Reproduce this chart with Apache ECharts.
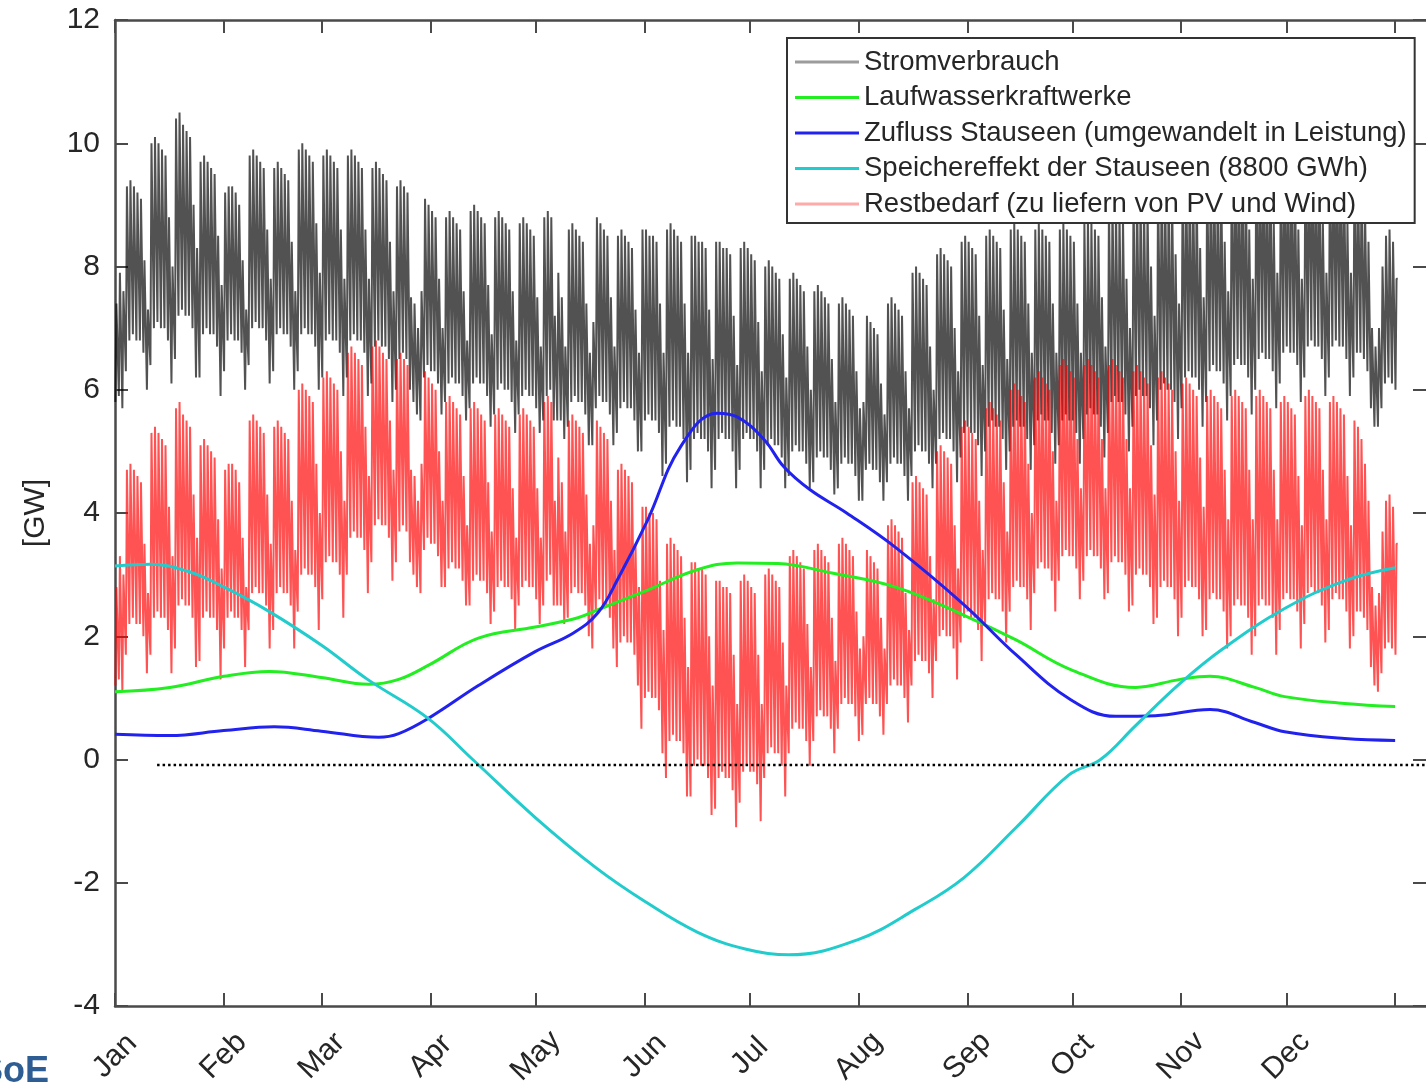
<!DOCTYPE html>
<html lang="de">
  <head>
    <meta charset="UTF-8" />
    <title>Stromverbrauch und Wasserkraft</title>
    <script src="https://cdn.jsdelivr.net/npm/echarts@6/dist/echarts.min.js"></script>
    <style>
      html, body { margin: 0; padding: 0; background: #fff; }
      #main { width: 1426px; height: 1089px; }
    </style>
  </head>
  <body>
    <div id="main"></div>
    <script type="text/javascript">
      // month labels and the day on which each month starts
      var months = ["Jan", "Feb", "Mar", "Apr", "May", "Jun", "Jul", "Aug", "Sep", "Oct", "Nov", "Dec"];
      var monthStart = [0, 31, 59, 90, 120, 151, 181, 212, 243, 273, 304, 334];
      var tickDays = [0, 31, 59, 90, 120, 151, 181, 212, 243, 273, 304, 334, 365];

      // daily peak / night low, in tenths of GW; one line per week (Mon..Sun)
      var demandHi = [
        74, 79, 76,
        93, 94, 93, 92, 91, 81, 73,
        100, 101, 100, 99, 98, 88, 80,
        104, 105, 103, 102, 101, 90, 83,
        97, 98, 97, 96, 95, 85, 77,
        92, 93, 93, 92, 90, 81, 73,
        98, 99, 98, 97, 96, 86, 78,
        96, 97, 96, 95, 94, 84, 76,
        99, 100, 99, 98, 97, 87, 79,
        98, 99, 98, 97, 96, 86, 78,
        98, 99, 98, 97, 96, 86, 78,
        96, 97, 96, 95, 94, 84, 76,
        93, 94, 93, 92, 75, 74, 70,
        76, 91, 90, 89, 88, 78, 70,
        88, 89, 88, 87, 86, 76, 68,
        89, 90, 89, 88, 87, 77, 69,
        88, 89, 88, 87, 86, 76, 68,
        87, 88, 87, 86, 85, 75, 67,
        88, 89, 88, 72, 79, 75, 67,
        86, 87, 86, 85, 84, 74, 66,
        71, 88, 87, 86, 85, 75, 67,
        85, 86, 85, 84, 83, 73, 66,
        86, 86, 85, 85, 84, 74, 66,
        86, 87, 86, 85, 84, 74, 66,
        85, 85, 84, 84, 83, 73, 65,
        84, 84, 83, 83, 82, 72, 64,
        83, 84, 83, 82, 81, 71, 63,
        80, 81, 80, 79, 78, 69, 62,
        78, 79, 78, 77, 76, 67, 60,
        76, 77, 76, 75, 74, 65, 58,
        74, 75, 74, 73, 72, 63, 57,
        58, 72, 71, 70, 69, 61, 56,
        74, 75, 74, 73, 72, 63, 57,
        79, 80, 79, 78, 77, 67, 60,
        82, 83, 82, 81, 80, 70, 63,
        84, 85, 84, 83, 82, 72, 64,
        85, 86, 85, 84, 83, 73, 65,
        86, 87, 86, 85, 84, 74, 66,
        86, 87, 86, 85, 84, 74, 66,
        86, 87, 86, 85, 84, 74, 66,
        87, 88, 87, 86, 85, 75, 67,
        90, 91, 90, 89, 88, 78, 70,
        92, 93, 92, 91, 90, 80, 72,
        94, 95, 94, 93, 92, 82, 74,
        95, 96, 95, 94, 93, 83, 75,
        96, 97, 96, 95, 94, 84, 76,
        98, 99, 98, 97, 96, 86, 78,
        99, 100, 99, 98, 97, 87, 79,
        98, 99, 98, 97, 96, 86, 78,
        99, 100, 99, 98, 97, 87, 79,
        99, 100, 99, 98, 97, 87, 79,
        97, 96, 94, 90, 84, 70, 67,
        70, 80, 85, 86, 84, 78
      ];
      var demandLo = [
        58, 59, 57,
        63, 68, 69, 68, 68, 66, 60,
        64, 70, 71, 70, 70, 68, 61,
        65, 72, 73, 72, 72, 70, 62,
        62, 69, 70, 69, 69, 67, 59,
        63, 68, 69, 68, 68, 66, 60,
        64, 70, 71, 70, 70, 68, 61,
        63, 69, 70, 69, 69, 67, 60,
        63, 69, 70, 69, 69, 67, 60,
        62, 68, 69, 68, 68, 66, 59,
        62, 68, 69, 68, 68, 66, 59,
        61, 67, 68, 67, 67, 65, 58,
        60, 65, 66, 65, 60, 58, 56,
        55, 62, 64, 63, 63, 61, 56,
        58, 61, 62, 61, 61, 59, 55,
        57, 61, 62, 61, 61, 59, 54,
        56, 60, 61, 60, 60, 58, 53,
        56, 59, 60, 59, 59, 57, 53,
        55, 59, 60, 55, 55, 55, 52,
        54, 58, 59, 58, 58, 56, 51,
        51, 57, 59, 58, 58, 56, 51,
        53, 57, 58, 57, 57, 55, 50,
        50, 55, 56, 55, 55, 53, 46,
        48, 54, 55, 54, 54, 52, 45,
        47, 52, 53, 52, 52, 50, 44,
        47, 52, 53, 52, 52, 50, 44,
        47, 52, 53, 52, 52, 50, 44,
        47, 51, 52, 51, 51, 49, 44,
        46, 50, 51, 50, 50, 48, 44,
        45, 49, 50, 49, 49, 47, 43,
        44, 48, 49, 48, 48, 46, 42,
        42, 47, 48, 47, 47, 45, 42,
        45, 48, 49, 48, 48, 46, 42,
        46, 50, 51, 50, 50, 48, 44,
        48, 52, 53, 52, 52, 50, 45,
        49, 53, 54, 53, 53, 51, 46,
        50, 54, 55, 54, 54, 52, 47,
        50, 54, 55, 54, 54, 52, 47,
        51, 55, 56, 55, 55, 53, 48,
        51, 55, 56, 55, 55, 53, 48,
        52, 56, 57, 56, 56, 54, 49,
        53, 58, 59, 58, 58, 56, 50,
        54, 59, 60, 59, 59, 57, 51,
        55, 60, 61, 60, 60, 58, 52,
        57, 62, 63, 62, 62, 60, 54,
        58, 63, 64, 63, 63, 61, 55,
        59, 64, 65, 64, 64, 62, 56,
        60, 65, 66, 65, 65, 63, 57,
        61, 66, 67, 66, 66, 64, 58,
        62, 67, 68, 67, 67, 65, 59,
        62, 67, 68, 67, 67, 65, 59,
        62, 66, 66, 65, 63, 57, 54,
        54, 57, 61, 62, 61, 60
      ];
      var residualHi = [
        28, 33, 30,
        47, 48, 47, 46, 45, 35, 27,
        53, 54, 53, 52, 51, 41, 33,
        57, 58, 56, 55, 54, 43, 36,
        51, 52, 51, 50, 49, 39, 31,
        47, 48, 48, 47, 45, 36, 28,
        55, 56, 55, 54, 53, 43, 35,
        54, 55, 54, 53, 52, 42, 34,
        60, 61, 60, 59, 58, 48, 40,
        62, 63, 62, 61, 60, 50, 42,
        66, 67, 66, 65, 64, 54, 46,
        67, 68, 67, 66, 65, 55, 47,
        65, 66, 65, 64, 47, 46, 42,
        48, 63, 62, 61, 60, 50, 42,
        58, 59, 58, 57, 56, 46, 38,
        57, 58, 57, 56, 55, 45, 37,
        56, 57, 56, 55, 54, 44, 36,
        56, 57, 56, 55, 54, 44, 36,
        58, 59, 58, 42, 49, 45, 37,
        55, 56, 55, 54, 53, 43, 35,
        38, 55, 54, 53, 52, 42, 34,
        47, 48, 47, 46, 45, 35, 28,
        41, 41, 40, 40, 39, 29, 21,
        35, 36, 35, 34, 33, 23, 15,
        32, 32, 31, 31, 30, 20, 12,
        29, 29, 28, 28, 27, 17, 9,
        29, 30, 29, 28, 27, 17, 9,
        30, 31, 30, 29, 28, 19, 12,
        33, 34, 33, 32, 31, 22, 15,
        34, 35, 34, 33, 32, 23, 16,
        35, 36, 35, 34, 33, 24, 18,
        20, 34, 33, 32, 31, 23, 18,
        38, 39, 38, 37, 36, 27, 21,
        45, 46, 45, 44, 43, 33, 26,
        50, 51, 50, 49, 48, 38, 31,
        54, 55, 54, 53, 52, 42, 34,
        57, 58, 57, 56, 55, 45, 37,
        60, 61, 60, 59, 58, 48, 40,
        62, 63, 62, 61, 60, 50, 42,
        64, 65, 64, 63, 62, 52, 44,
        64, 65, 64, 63, 62, 52, 44,
        64, 65, 64, 63, 62, 52, 44,
        63, 64, 63, 62, 61, 51, 43,
        62, 63, 62, 61, 60, 50, 42,
        61, 62, 61, 60, 59, 49, 41,
        59, 60, 59, 58, 57, 47, 39,
        59, 60, 59, 58, 57, 47, 39,
        59, 60, 59, 58, 57, 47, 39,
        58, 59, 58, 57, 56, 46, 38,
        59, 60, 59, 58, 57, 47, 39,
        58, 59, 58, 57, 56, 46, 38,
        55, 54, 52, 48, 42, 28, 25,
        27, 37, 42, 43, 41, 35
      ];
      var residualLo = [
        12, 13, 11,
        17, 22, 23, 22, 22, 20, 14,
        17, 23, 24, 23, 23, 21, 14,
        18, 25, 26, 25, 25, 23, 15,
        16, 23, 24, 23, 23, 21, 13,
        18, 23, 24, 23, 23, 21, 15,
        21, 27, 28, 27, 27, 25, 18,
        21, 27, 28, 27, 27, 25, 18,
        24, 30, 31, 30, 30, 28, 21,
        26, 32, 33, 32, 32, 30, 23,
        30, 36, 37, 36, 36, 34, 27,
        32, 38, 39, 38, 38, 36, 29,
        32, 37, 38, 37, 32, 30, 28,
        27, 34, 36, 35, 35, 33, 28,
        28, 31, 32, 31, 31, 29, 25,
        25, 29, 30, 29, 29, 27, 22,
        24, 28, 29, 28, 28, 26, 21,
        25, 28, 29, 28, 28, 26, 22,
        25, 29, 30, 25, 25, 25, 22,
        23, 27, 28, 27, 27, 25, 20,
        18, 24, 26, 25, 25, 23, 18,
        15, 19, 20, 19, 19, 17, 12,
        5, 10, 11, 10, 10, 8, 1,
        -3, 3, 4, 3, 3, 1, -6,
        -6, -1, 0, -1, -1, -3, -9,
        -8, -3, -2, -3, -3, -5, -11,
        -7, -2, -1, -2, -2, -4, -10,
        -3, 1, 2, 1, 1, -1, -6,
        1, 5, 6, 5, 5, 3, -1,
        3, 7, 8, 7, 7, 5, 1,
        5, 9, 10, 9, 9, 7, 3,
        4, 9, 10, 9, 9, 7, 4,
        9, 12, 13, 12, 12, 10, 6,
        12, 16, 17, 16, 16, 14, 10,
        16, 20, 21, 20, 20, 18, 13,
        19, 23, 24, 23, 23, 21, 16,
        22, 26, 27, 26, 26, 24, 19,
        24, 28, 29, 28, 28, 26, 21,
        27, 31, 32, 31, 31, 29, 24,
        29, 33, 34, 33, 33, 31, 26,
        29, 33, 34, 33, 33, 31, 26,
        27, 32, 33, 32, 32, 30, 24,
        25, 30, 31, 30, 30, 28, 22,
        23, 28, 29, 28, 28, 26, 20,
        23, 28, 29, 28, 28, 26, 20,
        21, 26, 27, 26, 26, 24, 18,
        20, 25, 26, 25, 25, 23, 17,
        20, 25, 26, 25, 25, 23, 17,
        21, 26, 27, 26, 26, 24, 18,
        22, 27, 28, 27, 27, 25, 19,
        21, 26, 27, 26, 26, 24, 18,
        20, 24, 24, 23, 21, 15, 12,
        11, 14, 18, 19, 18, 17
      ];

      // smooth hydro curves: [day, GW]
      var runOfRiver = [
        [0, 1.1], [15.6, 1.17], [31, 1.35], [44, 1.43], [58.8, 1.33], [72.4, 1.22], [80.9, 1.3],
        [89.7, 1.54], [103.6, 1.97], [119.8, 2.15], [132, 2.3], [137.7, 2.43], [151.9, 2.75],
        [166, 3.08], [177.4, 3.19], [189, 3.18], [204, 3.03], [223, 2.79], [242.1, 2.34],
        [256.9, 1.94], [272.5, 1.46], [291, 1.17], [303.7, 1.3], [312.2, 1.35], [325, 1.17],
        [333.5, 1.02], [350.6, 0.91], [365, 0.86]
      ];
      var reservoirInflow = [
        [0, 0.41], [15.6, 0.39], [31, 0.47], [45.4, 0.53], [58.8, 0.46], [75.2, 0.36], [80.9, 0.42],
        [89.7, 0.68], [103.6, 1.2], [119.8, 1.75], [130.6, 2.05], [137.7, 2.38], [143.3, 2.92],
        [151.9, 3.89], [161.2, 5.07], [171.7, 5.62], [177.4, 5.56], [185.1, 5.19], [190.7, 4.75],
        [198.1, 4.38], [208.6, 4.0], [222.8, 3.43], [242.1, 2.51], [256.9, 1.7], [272.5, 0.97],
        [285.3, 0.7], [296.6, 0.71], [312.2, 0.81], [325, 0.6], [333.5, 0.45], [350.6, 0.34],
        [365, 0.31]
      ];
      var storageEffect = [
        [0, 3.14], [10, 3.17], [21, 3.05], [31, 2.8], [44, 2.4], [59, 1.85], [72, 1.3], [89, 0.68],
        [102, 0.0], [120, -0.95], [137, -1.75], [151, -2.3], [166, -2.8], [180, -3.08],
        [192, -3.17], [211.5, -2.93], [228.5, -2.42], [242, -1.92], [257, -1.1], [272, -0.25],
        [281, 0.0], [291, 0.55], [304, 1.25], [316, 1.8], [333.5, 2.45], [350.6, 2.9], [365, 3.11]
      ];
      var zeroLine = [[12, -0.09], [374, -0.09]];

      // each day: night low, then the daytime plateau
      function dailyLine(lo, hi) {
        var pts = [];
        for (var d = 0; d < hi.length; d++) {
          pts.push([d + 0.1, lo[d] / 10]);
          pts.push([d + 0.4, hi[d] / 10]);
          pts.push([d + 0.75, hi[d] / 10]);
        }
        return pts;
      }

      var FONT = "Liberation Sans";
      var INK = "#262626";
      var AXIS = "#4a4a4a";

      var chart = echarts.init(document.getElementById("main"));
      var option = {
        animation: false,
        backgroundColor: "#fff",
        textStyle: { fontFamily: FONT },
        grid: { left: 115, top: 20, right: -6, bottom: 83 },
        legend: {
          orient: "vertical",
          left: 787,
          top: 38,
          padding: [9, 8, 4, 8],
          icon: "rect",
          itemWidth: 64,
          itemHeight: 3,
          itemGap: 5.5,
          backgroundColor: "#fff",
          borderColor: "#333",
          borderWidth: 2,
          borderRadius: 0,
          textStyle: { fontSize: 27.5, lineHeight: 30, color: INK, fontFamily: FONT },
          data: [
            { name: "Stromverbrauch", itemStyle: { color: "#9c9c9c" } },
            { name: "Laufwasserkraftwerke", itemStyle: { color: "#22ee22" } },
            { name: "Zufluss Stauseen (umgewandelt in Leistung)", itemStyle: { color: "#2222ee" } },
            { name: "Speichereffekt der Stauseen (8800 GWh)", itemStyle: { color: "#22cccc" } },
            { name: "Restbedarf (zu liefern von PV und Wind)", itemStyle: { color: "#ffaaaa" } }
          ]
        },
        xAxis: [
          {
            type: "value",
            min: 0,
            max: 373.8,
            axisLine: { onZero: false, lineStyle: { color: AXIS, width: 2.5 } },
            axisTick: { inside: true, length: 13, customValues: tickDays, lineStyle: { color: AXIS, width: 2 } },
            axisLabel: {
              customValues: monthStart,
              formatter: function (v) {
                return months[monthStart.indexOf(v)] || "";
              },
              rotate: 45,
              align: "center",
              verticalAlign: "middle",
              margin: 50,
              fontSize: 30,
              color: INK,
              fontFamily: FONT
            },
            splitLine: { show: false }
          },
          {
            type: "value",
            position: "top",
            min: 0,
            max: 373.8,
            axisLine: { onZero: false, lineStyle: { color: AXIS, width: 2.5 } },
            axisTick: { inside: true, length: 13, customValues: tickDays, lineStyle: { color: AXIS, width: 2 } },
            axisLabel: { show: false },
            splitLine: { show: false }
          }
        ],
        yAxis: [
          {
            type: "value",
            min: -4,
            max: 12,
            interval: 2,
            name: "[GW]",
            nameLocation: "middle",
            nameGap: 64,
            nameTextStyle: { fontSize: 30, color: INK, fontFamily: FONT },
            axisLine: { show: true, onZero: false, lineStyle: { color: AXIS, width: 2.5 } },
            axisTick: { show: true, inside: true, length: 13, lineStyle: { color: AXIS, width: 2 } },
            axisLabel: { fontSize: 30, color: INK, margin: 15, fontFamily: FONT },
            splitLine: { show: false }
          },
          {
            type: "value",
            position: "right",
            min: -4,
            max: 12,
            interval: 2,
            axisLine: { show: false, onZero: false },
            axisTick: { show: true, inside: true, length: 13, lineStyle: { color: AXIS, width: 2 } },
            axisLabel: { show: false },
            splitLine: { show: false }
          }
        ],
        graphic: [
          {
            type: "text",
            left: -21,
            top: 1054,
            style: { text: "SoE", font: "bold 36px " + FONT, fill: "#2d5d93" }
          }
        ],
        series: [
          {
            name: "Stromverbrauch",
            type: "line",
            symbol: "none",
            data: dailyLine(demandLo, demandHi),
            lineStyle: { color: "rgba(0,0,0,0.68)", width: 2 },
            itemStyle: { color: "#9c9c9c" },
            z: 2
          },
          {
            name: "Restbedarf (zu liefern von PV und Wind)",
            type: "line",
            symbol: "none",
            data: dailyLine(residualLo, residualHi),
            lineStyle: { color: "rgba(255,0,0,0.68)", width: 2 },
            itemStyle: { color: "#ffaaaa" },
            z: 3
          },
          {
            name: "Laufwasserkraftwerke",
            type: "line",
            symbol: "none",
            smooth: 0.4,
            data: runOfRiver,
            lineStyle: { color: "#22ee22", width: 3 },
            itemStyle: { color: "#22ee22" },
            z: 4
          },
          {
            name: "Zufluss Stauseen (umgewandelt in Leistung)",
            type: "line",
            symbol: "none",
            smooth: 0.4,
            data: reservoirInflow,
            lineStyle: { color: "#2222ee", width: 3 },
            itemStyle: { color: "#2222ee" },
            z: 4
          },
          {
            name: "Speichereffekt der Stauseen (8800 GWh)",
            type: "line",
            symbol: "none",
            smooth: 0.4,
            data: storageEffect,
            lineStyle: { color: "#22cccc", width: 3 },
            itemStyle: { color: "#22cccc" },
            z: 4
          },
          {
            name: "zero",
            type: "line",
            symbol: "none",
            data: zeroLine,
            lineStyle: { color: "#000", width: 2.5, type: [2.5, 3] },
            silent: true,
            z: 5
          }
        ]
      };
      chart.setOption(option);
    </script>
  </body>
</html>
